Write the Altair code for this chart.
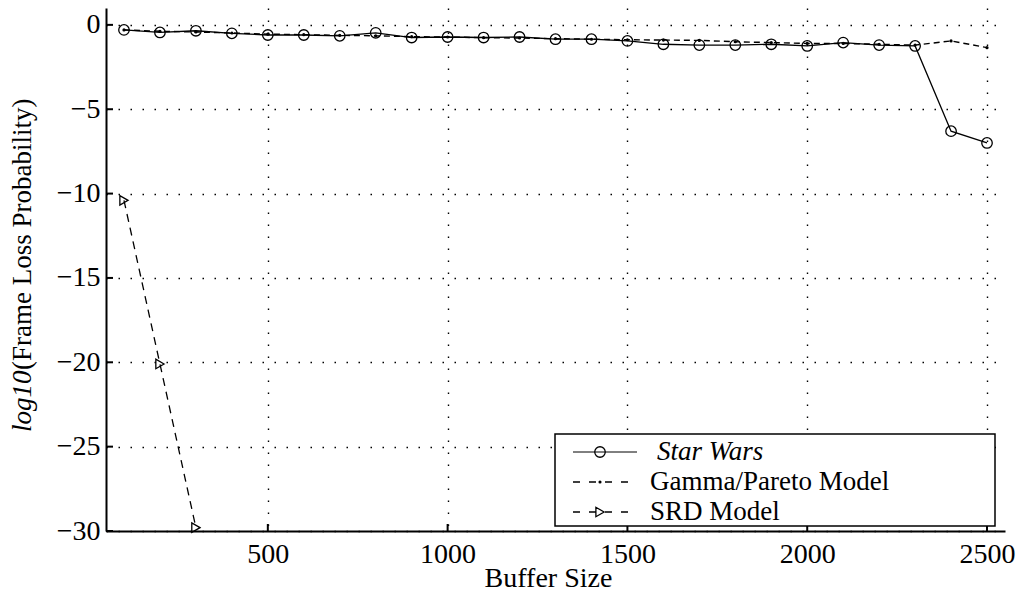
import altair as alt
import pandas as pd

# ---- data ----
buffer_size = [100, 200, 300, 400, 500, 600, 700, 800, 900, 1000, 1100, 1200, 1300,
               1400, 1500, 1600, 1700, 1800, 1900, 2000, 2100, 2200, 2300, 2400, 2500]
star_wars = [-0.30, -0.45, -0.35, -0.50, -0.60, -0.60, -0.65, -0.47, -0.75, -0.72, -0.75, -0.72, -0.85,
             -0.85, -0.95, -1.15, -1.20, -1.20, -1.15, -1.25, -1.05, -1.20, -1.25, -6.30, -7.00]
gamma_pareto = [-0.30, -0.38, -0.42, -0.48, -0.55, -0.58, -0.62, -0.65, -0.70, -0.72, -0.76, -0.78, -0.82,
                -0.85, -0.88, -0.90, -0.92, -1.00, -1.05, -1.10, -1.10, -1.15, -1.20, -0.95, -1.35]
srd_buffer = [100, 200, 300]
srd_model = [-10.4, -20.1, -29.8]

x_ticks = [500, 1000, 1500, 2000, 2500]
y_ticks = [-30, -25, -20, -15, -10, -5, 0]

FONT = "'Liberation Serif', 'DejaVu Serif', 'Times New Roman', serif"
W, H = 899, 523

sw_df = pd.DataFrame({"x": buffer_size, "y": star_wars})
gp_df = pd.DataFrame({"x": buffer_size, "y": gamma_pareto})
srd_df = pd.DataFrame({"x": srd_buffer, "y": srd_model})
xt_df = pd.DataFrame({"t": x_ticks})
yt_df = pd.DataFrame({"t": y_ticks})
one = pd.DataFrame({"a": [0]})

xscale = alt.Scale(domain=[50, 2550], nice=False, zero=False)
yscale = alt.Scale(domain=[-30, 1], nice=False, zero=False)

xaxis = alt.Axis(values=x_ticks, format="d", grid=True, gridDash=[1.5, 10.5], gridColor="black",
                 gridWidth=1.4, gridOpacity=1, domainColor="black", domainWidth=2,
                 ticks=False, labelFont=FONT, labelFontSize=28, labelColor="black",
                 labelPadding=9, labelFlush=False,
                 title="Buffer Size", titleFont=FONT, titleFontSize=28,
                 titleFontWeight="normal", titleColor="black", titleX=442, titleY=55,
                 titleBaseline="alphabetic", titleAlign="center")
yaxis = alt.Axis(values=y_ticks, format="d", grid=True, gridDash=[1.5, 10.5], gridColor="black",
                 gridWidth=1.4, gridOpacity=1, domainColor="black", domainWidth=2,
                 ticks=False, labelFont=FONT, labelFontSize=28, labelColor="black",
                 labelPadding=6, labelFlush=False, title=None)

X = alt.X("x:Q", scale=xscale, axis=xaxis)
Y = alt.Y("y:Q", scale=yscale, axis=yaxis)

sw_line = alt.Chart(sw_df).mark_line(color="black", strokeWidth=1.3).encode(x=X, y=Y)
sw_pts = alt.Chart(sw_df).mark_point(shape="circle", filled=False, size=110, color="black",
                                     strokeWidth=1.3, opacity=1).encode(x=X, y=Y)
gp_line = alt.Chart(gp_df).mark_line(color="black", strokeWidth=1.4, strokeDash=[6, 4]).encode(x=X, y=Y)
gp_pts = alt.Chart(gp_df).mark_point(shape="circle", filled=True, size=10, color="black",
                                     opacity=1).encode(x=X, y=Y)
srd_line = alt.Chart(srd_df).mark_line(color="black", strokeWidth=1.3, strokeDash=[8, 6]).encode(x=X, y=Y)
srd_pts = alt.Chart(srd_df).mark_point(shape="triangle-right", filled=False, size=90, color="black",
                                       strokeWidth=1.3, opacity=1).encode(x=X, y=Y)

xt = alt.Chart(xt_df).mark_rule(color="black", strokeWidth=2).encode(
    x=alt.X("t:Q", scale=xscale, axis=xaxis), y=alt.value(H), y2=alt.value(H - 7))
yt = alt.Chart(yt_df).mark_rule(color="black", strokeWidth=2).encode(
    y=alt.Y("t:Q", scale=yscale, axis=yaxis), x=alt.value(0), x2=alt.value(7))

# ---- legend ----
lx0, lx1, ly0, ly1 = 449, 889, 426, 518
rows = [444, 474, 504]
leg_box = alt.Chart(one).mark_rect(fill="white", stroke="black", strokeWidth=1.5).encode(
    x=alt.value(lx0), x2=alt.value(lx1), y=alt.value(ly0), y2=alt.value(ly1))
leg_sw_line = alt.Chart(one).mark_rule(color="black", strokeWidth=1).encode(
    x=alt.value(467), x2=alt.value(531), y=alt.value(rows[0]))
leg_sw_pt = alt.Chart(one).mark_point(shape="circle", filled=False, size=110, color="black",
                                      strokeWidth=1.3, opacity=1).encode(
    x=alt.value(494), y=alt.value(rows[0]))
leg_gp_line = alt.Chart(one).mark_rule(color="black", strokeWidth=1.4, strokeDash=[7, 9]).encode(
    x=alt.value(467), x2=alt.value(531), y=alt.value(rows[1]))
leg_gp_pt = alt.Chart(one).mark_point(shape="circle", filled=True, size=10, color="black",
                                      opacity=1).encode(x=alt.value(494), y=alt.value(rows[1]))
leg_srd_line = alt.Chart(one).mark_rule(color="black", strokeWidth=1.4, strokeDash=[7, 9]).encode(
    x=alt.value(467), x2=alt.value(531), y=alt.value(rows[2]))
leg_srd_pt = alt.Chart(one).mark_point(shape="triangle-right", filled=False, size=90, color="black",
                                       strokeWidth=1.3, opacity=1).encode(
    x=alt.value(494), y=alt.value(rows[2]))
leg_t1 = alt.Chart(one).mark_text(font=FONT, fontSize=27, fontStyle="italic", align="left",
                                  baseline="middle", color="black").encode(
    x=alt.value(551), y=alt.value(rows[0]), text=alt.value("Star Wars"))
leg_t2 = alt.Chart(one).mark_text(font=FONT, fontSize=27, align="left",
                                  baseline="middle", color="black").encode(
    x=alt.value(544), y=alt.value(rows[1]), text=alt.value("Gamma/Pareto Model"))
leg_t3 = alt.Chart(one).mark_text(font=FONT, fontSize=27, align="left",
                                  baseline="middle", color="black").encode(
    x=alt.value(544), y=alt.value(rows[2]), text=alt.value("SRD Model"))

# ---- y title (italic log10 + normal rest) ----
yt1 = alt.Chart(one).mark_text(font=FONT, fontSize=27, fontStyle="italic", angle=270, align="left",
                               baseline="middle", color="black").encode(
    x=alt.value(-83), y=alt.value(424), text=alt.value("log10"))
yt2 = alt.Chart(one).mark_text(font=FONT, fontSize=27, angle=270, align="left",
                               baseline="middle", color="black").encode(
    x=alt.value(-83), y=alt.value(362), text=alt.value("(Frame Loss Probability)"))

chart = alt.layer(
    sw_line, gp_line, srd_line, sw_pts, gp_pts, srd_pts, xt, yt,
    leg_box, leg_sw_line, leg_sw_pt, leg_gp_line, leg_gp_pt, leg_srd_line, leg_srd_pt,
    leg_t1, leg_t2, leg_t3, yt1, yt2
).properties(
    width=W, height=H,
    autosize=alt.AutoSizeParams(type="none"),
    padding={"left": 98, "top": 0, "right": 15, "bottom": 60},
    background="white"
).configure_view(stroke=None)

chart.save("out.html", embed_options={"renderer": "svg", "actions": False})
